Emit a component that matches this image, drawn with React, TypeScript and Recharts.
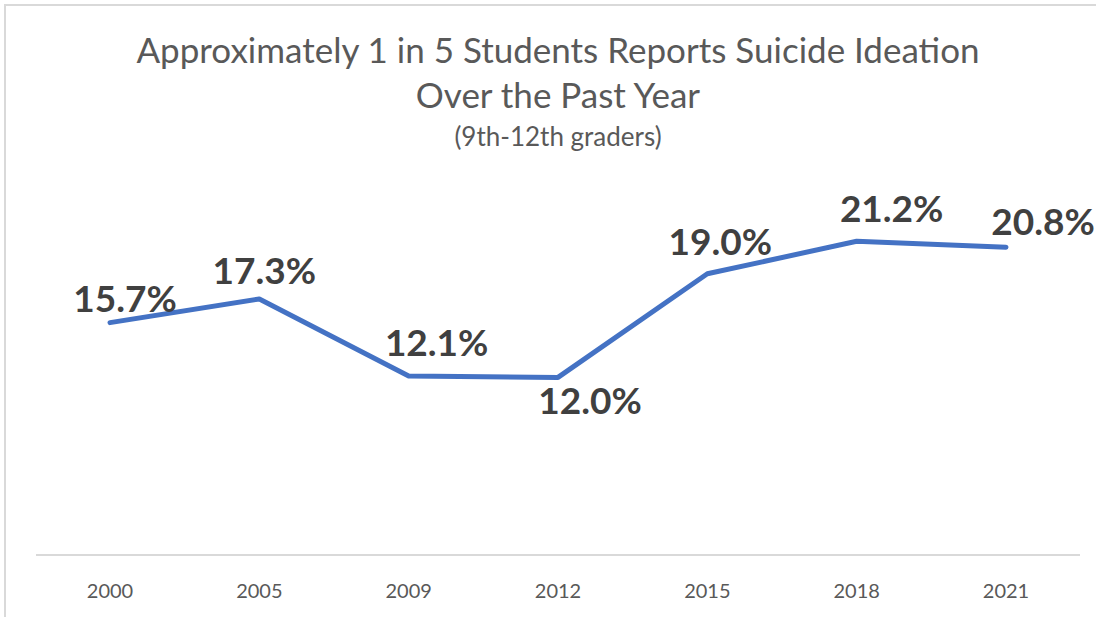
import { LineChart, Line, XAxis, YAxis, LabelList } from "recharts";

const YEARS = ["2000", "2005", "2009", "2012", "2015", "2018", "2021"];
const RATES = [15.7, 17.3, 12.1, 12.0, 19.0, 21.2, 20.8];

const data = YEARS.map((year, i) => ({ year, rate: RATES[i] }));

// hand-placed label nudges, like the original
const LABEL_DX = [15, 5, 28, 32, 13, 35, 37];
const LABEL_DY = [-11, -15, -20, 37, -19, -19, -12];

const FONT = "Lato, 'Open Sans', sans-serif";

function RateLabel(props: any) {
    const { x, y, value, index } = props;
    return (
        <text
            x={x + LABEL_DX[index]}
            y={y + LABEL_DY[index]}
            textAnchor="middle"
            fill="#404040"
            fontFamily={FONT}
            fontWeight={700}
            fontSize={37}
        >
            {value.toFixed(1)}%
        </text>
    );
}

export default function App() {
    return (
        <div
            style={{
                position: "absolute",
                left: 0,
                top: 0,
                width: 1096,
                height: 617,
                overflow: "hidden",
                background: "#fff",
                fontFamily: FONT,
            }}
        >
            <div
                style={{
                    position: "absolute",
                    left: 4,
                    top: 4,
                    width: 1200,
                    height: 700,
                    border: "2px solid #d9d9d9",
                }}
            />
            <div
                style={{
                    position: "absolute",
                    left: 0,
                    top: 27,
                    width: 1116,
                    textAlign: "center",
                    color: "#595959",
                    fontSize: 35,
                    lineHeight: "45px",
                }}
            >
                <div>Approximately 1 in 5 Students Reports Suicide Ideation</div>
                <div>Over the Past Year</div>
                <div style={{ fontSize: 26, lineHeight: "38px" }}>
                    (9th-12th graders)
                </div>
            </div>
            <div style={{ position: "absolute", left: 0, top: 0 }}>
                <LineChart
                    width={1096}
                    height={617}
                    data={data}
                    margin={{ top: 185, right: 16, left: 36, bottom: 32 }}
                >
                    <XAxis
                        dataKey="year"
                        padding={{ left: 74, right: 74 }}
                        axisLine={{ stroke: "#d9d9d9", strokeWidth: 2 }}
                        tickLine={false}
                        tickMargin={23}
                        tick={{ fill: "#595959", fontSize: 20, fontFamily: FONT }}
                    />
                    <YAxis hide domain={[0, 25]} />
                    <Line
                        dataKey="rate"
                        stroke="#4472c4"
                        strokeWidth={5}
                        strokeLinecap="round"
                        strokeLinejoin="round"
                        dot={false}
                        isAnimationActive={false}
                    >
                        <LabelList dataKey="rate" content={RateLabel} />
                    </Line>
                </LineChart>
            </div>
        </div>
    );
}
